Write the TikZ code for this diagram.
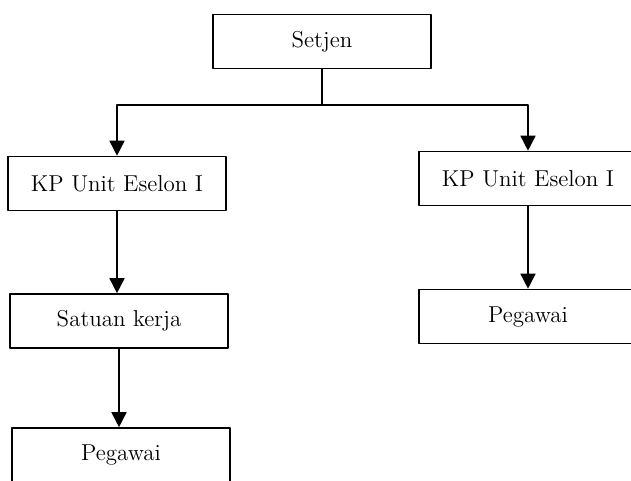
\documentclass[tikz,border=0pt]{standalone}
\usetikzlibrary{arrows.meta}
\begin{document}
\begin{tikzpicture}[x=0.5pt,y=-0.5pt,>={Triangle[length=7.5pt,width=7.5pt]},line join=round,font=\fontsize{11.5}{14}\selectfont]
			% Khung
			\useasboundingbox (0,0) rectangle (631,481);
			\clip (0,0) rectangle (631,481);
			\tikzset{kotak/.style={draw,line width=0.8pt,minimum width=109pt,minimum height=27pt,inner sep=0pt}}
			% Cac kotak
			\node [kotak] (setjen) at (322,41.5) {Setjen};
			\node [kotak] (kpa) at (117,183.5) {KP Unit Eselon I};
			\node [kotak] (satker) at (119,321) {Satuan kerja};
			\node [kotak] (pegawaia) at (121,455) {Pegawai};
			\node [kotak] (kpb) at (528,178.5) {KP Unit Eselon I};
			\node [kotak] (pegawaib) at (528,316.5) {Pegawai};
			\coordinate (garis) at (322,105);
			% Panah
			\draw [line width=0.8pt] (setjen.south)--(garis);
			\draw [->,line width=0.8pt] (garis)-|(kpa.north);
			\draw [->,line width=0.8pt] (garis)-|(kpb.north);
			\draw [->,line width=0.8pt] (kpa.south)--(kpa.south|-satker.north);
			\draw [->,line width=0.8pt] (satker.south)--(satker.south|-pegawaia.north);
			\draw [->,line width=0.8pt] (kpb)--(pegawaib);
		\end{tikzpicture}
\end{document}
